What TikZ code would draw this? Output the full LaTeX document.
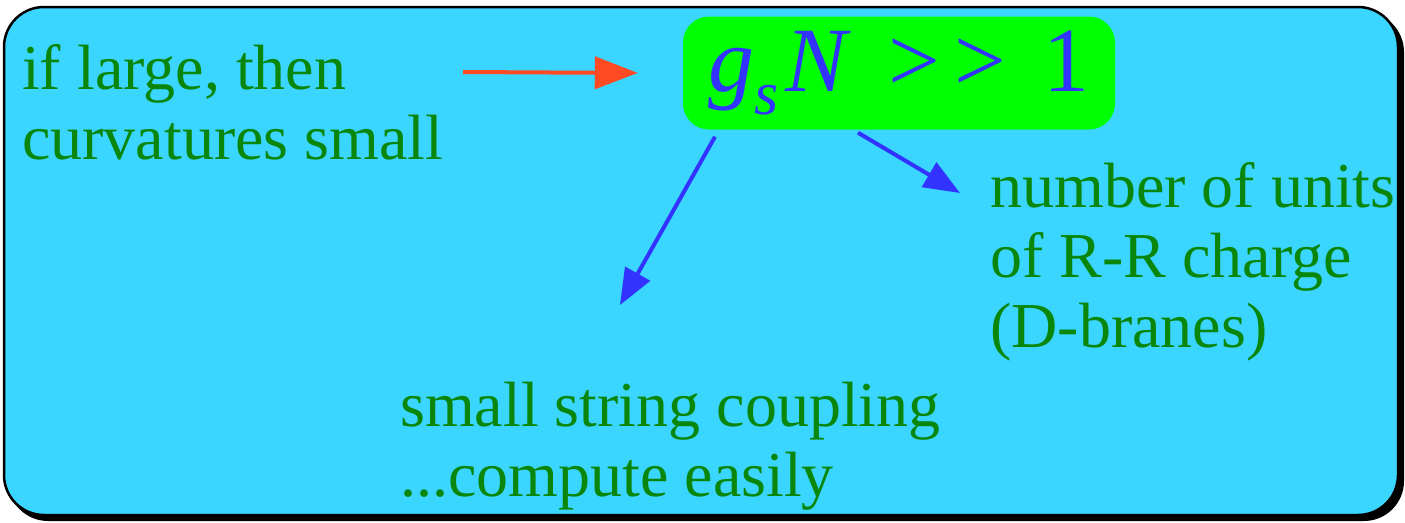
\documentclass[tikz,border=0pt]{standalone}
\usepackage{fontspec}
\setmainfont{Liberation Serif}
\usetikzlibrary{arrows.meta, positioning}
\definecolor{skycyan}{HTML}{3AD6FF}
\definecolor{notegreen}{HTML}{0A870A}
\definecolor{boxgreen}{HTML}{00FF00}
\definecolor{arrowblue}{HTML}{3333FF}
\definecolor{arrowred}{HTML}{FF4A24}

\begin{document}
\begin{tikzpicture}[
    x=1pt, y=-1pt,
    note/.style  ={text=notegreen, align=left, inner sep=0pt, anchor=north west,
                   font=\fontsize{64}{70}\selectfont},
    keybox/.style={fill=boxgreen, rounded corners=26pt, text=arrowblue,
                   minimum width=432pt, minimum height=113pt, inner sep=0pt,
                   font=\fontsize{92}{92}\selectfont},
    bluearrow/.style={-{Triangle[length=36pt,width=28pt]}, line width=4pt, arrowblue},
    redarrow/.style ={-{Triangle[length=43pt,width=32pt]}, line width=4pt, arrowred},
]
\useasboundingbox (0,0) rectangle (1405,522);
% frame with its shadow
\fill[black, rounded corners=40pt] (8,12) rectangle (1404,521);
\draw[fill=skycyan, line width=2.5pt, rounded corners=40pt] (4,7) rectangle (1398,515);

\node[keybox] (gsn) at (899,73) {\itshape g\raisebox{-0.25em}{\fontsize{62}{62}\selectfont s}\hspace{0.07em}N\upshape\hspace{0.45em}>\hspace{0.16em}>\hspace{0.4em}1};
\node[note] (curv)   at (22,44)   {if large, then\\curvatures small};
\node[note] (units)  at (990,162) {number of units\\of R-R charge\\(D-branes)};
\node[note] (coupl)  at (400,382) {small string coupling\\...compute easily};

\coordinate (redtail) at (463,72);
\coordinate (tipA) at (620,305);
\coordinate (tipB) at (960,193);

\draw[redarrow]  (redtail) -- ([xshift=-45pt]gsn.west);
\draw[bluearrow] ([xshift=-184pt,yshift=-7pt]gsn.south) -- (tipA);
\draw[bluearrow] ([xshift=-41pt,yshift=-3pt]gsn.south) -- (tipB);
\end{tikzpicture}
\end{document}
